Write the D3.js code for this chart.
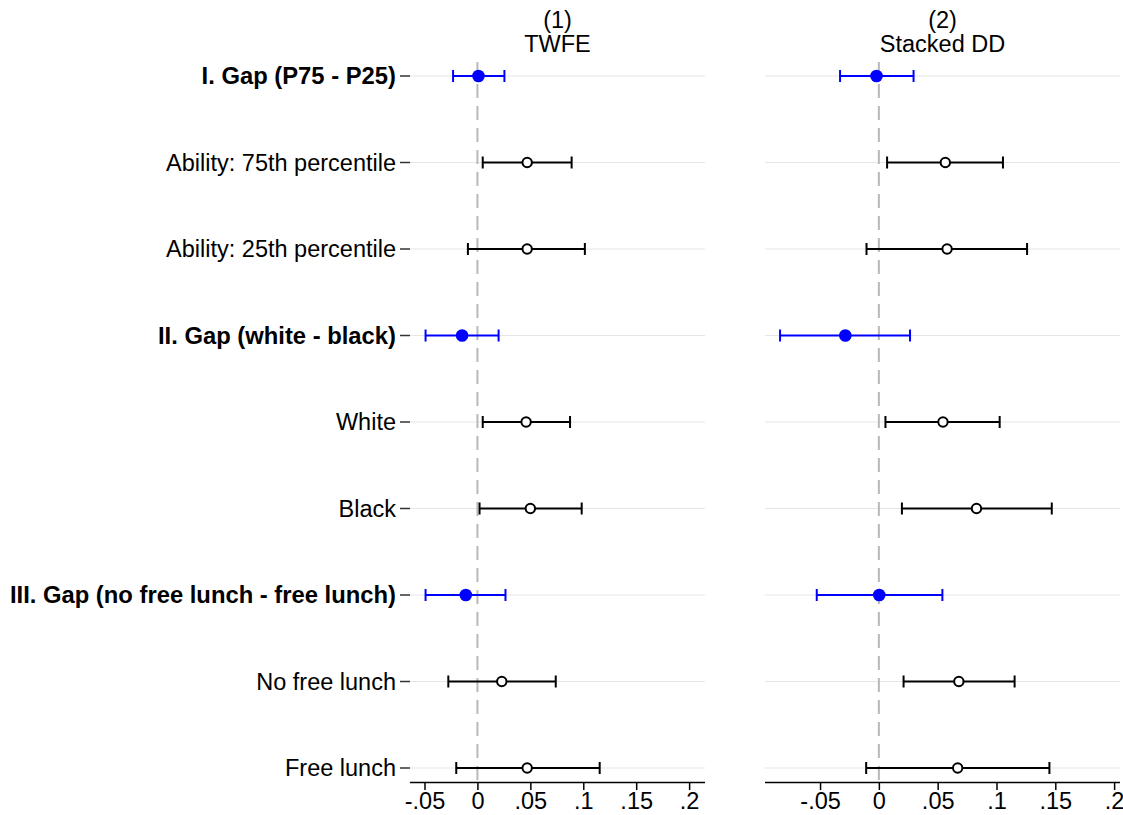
<!DOCTYPE html>
<html>
<head>
<meta charset="utf-8">
<script src="https://d3js.org/d3.v7.min.js"></script>
<style>
  body { margin: 0; background: #fff; }
  text { font-family: "Liberation Sans", Arial, sans-serif; }
</style>
</head>
<body>
<div id="chart"></div>
<script>
// rows, top to bottom
var rowLabels = ["I. Gap (P75 - P25)", "Ability: 75th percentile", "Ability: 25th percentile",
  "II. Gap (white - black)", "White", "Black",
  "III. Gap (no free lunch - free lunch)", "No free lunch", "Free lunch"];
var isGap = [true, false, false, true, false, false, true, false, false];

// column (1) TWFE
var twfeEst = [0.001, 0.047, 0.047, -0.0145, 0.046, 0.050, -0.011, 0.023, 0.047];
var twfeLo  = [-0.023, 0.005, -0.009, -0.049, 0.005, 0.002, -0.049, -0.0275, -0.020];
var twfeHi  = [0.0255, 0.089, 0.1015, 0.020, 0.0875, 0.0985, 0.0265, 0.074, 0.1155];

// column (2) Stacked DD
var stackEst = [-0.002, 0.0565, 0.058, -0.0285, 0.0545, 0.083, 0.0003, 0.068, 0.067];
var stackLo  = [-0.033, 0.007, -0.0105, -0.084, 0.0056, 0.0196, -0.0528, 0.021, -0.0108];
var stackHi  = [0.0295, 0.1055, 0.126, 0.0265, 0.1027, 0.147, 0.054, 0.1154, 0.145];

var tickVals = [-0.05, 0, 0.05, 0.1, 0.15, 0.2];
var tickLabels = ["-.05", "0", ".05", ".1", ".15", ".2"];

var W = 1123, H = 815;
var fs = 23.5;
var svg = d3.select("#chart").append("svg")
  .attr("width", W).attr("height", H);

var y = d3.scalePoint()
  .domain(d3.range(rowLabels.length))
  .range([76, 768]);

var axisY = 782;

var panels = [
  { title: ["(1)", "TWFE"], left: 410, right: 705, domain: [-0.0637, 0.215],
    est: twfeEst, lo: twfeLo, hi: twfeHi, yTicks: true },
  { title: ["(2)", "Stacked DD"], left: 765, right: 1120, domain: [-0.0968, 0.205],
    est: stackEst, lo: stackLo, hi: stackHi, yTicks: false }
];

panels.forEach(function(p) {
  var x = d3.scaleLinear().domain(p.domain).range([p.left, p.right]);
  var g = svg.append("g");

  // light gridlines per row
  g.selectAll(".grid")
    .data(rowLabels)
    .enter().append("line")
      .attr("x1", p.left).attr("x2", p.right)
      .attr("y1", function(d, i) { return y(i); })
      .attr("y2", function(d, i) { return y(i); })
      .attr("stroke", "#e6e6e6")
      .attr("stroke-width", 1.2);

  // zero reference line
  g.append("line")
    .attr("x1", x(0)).attr("x2", x(0))
    .attr("y1", 62).attr("y2", axisY)
    .attr("stroke", "#b8b8b8")
    .attr("stroke-width", 2)
    .attr("stroke-dasharray", "14,8");

  // x axis
  var xAxis = d3.axisBottom(x)
    .tickValues(tickVals)
    .tickFormat(function(d, i) { return tickLabels[i]; })
    .tickSize(8)
    .tickPadding(2);
  var ax = g.append("g")
    .attr("transform", "translate(0," + axisY + ")")
    .call(xAxis);
  ax.select(".domain").attr("d", "M" + p.left + ",0.5H" + p.right)
    .attr("stroke", "#000").attr("stroke-width", 1.5);
  ax.selectAll(".tick line").attr("stroke", "#000").attr("stroke-width", 1.5);
  ax.selectAll(".tick text")
    .attr("font-size", fs)
    .attr("fill", "#000")
    .style("font-family", "'Liberation Sans', Arial, sans-serif");

  // y tick marks and labels (left panel only)
  if (p.yTicks) {
    g.selectAll(".ytick")
      .data(rowLabels)
      .enter().append("line")
        .attr("x1", p.left - 10).attr("x2", p.left)
        .attr("y1", function(d, i) { return y(i); })
        .attr("y2", function(d, i) { return y(i); })
        .attr("stroke", "#333").attr("stroke-width", 1.5);
    g.selectAll(".ylab")
      .data(rowLabels)
      .enter().append("text")
        .attr("x", p.left - 14)
        .attr("y", function(d, i) { return y(i); })
        .attr("dy", "0.35em")
        .attr("text-anchor", "end")
        .attr("font-size", function(d, i) { return isGap[i] ? 23.8 : fs; })
        .attr("font-weight", function(d, i) { return isGap[i] ? "bold" : "normal"; })
        .text(function(d) { return d; });
  }

  // titles
  var cx = (p.left + p.right) / 2;
  g.append("text").attr("x", cx).attr("y", 28)
    .attr("text-anchor", "middle").attr("font-size", fs).text(p.title[0]);
  g.append("text").attr("x", cx).attr("y", 52)
    .attr("text-anchor", "middle").attr("font-size", fs).text(p.title[1]);

  var rows = d3.range(rowLabels.length).map(function(i) {
    return { i: i, est: p.est[i], lo: p.lo[i], hi: p.hi[i], gap: isGap[i] };
  });
  var col = function(d) { return d.gap ? "#0000ff" : "#000"; };

  // CI bars
  g.selectAll(".ci")
    .data(rows)
    .enter().append("line")
      .attr("x1", function(d) { return x(d.lo); })
      .attr("x2", function(d) { return x(d.hi); })
      .attr("y1", function(d) { return y(d.i); })
      .attr("y2", function(d) { return y(d.i); })
      .attr("stroke", col).attr("stroke-width", 2);
  ["lo", "hi"].forEach(function(k) {
    g.selectAll(".cap" + k)
      .data(rows)
      .enter().append("line")
        .attr("x1", function(d) { return x(d[k]); })
        .attr("x2", function(d) { return x(d[k]); })
        .attr("y1", function(d) { return y(d.i) - 6; })
        .attr("y2", function(d) { return y(d.i) + 6; })
        .attr("stroke", col).attr("stroke-width", 2);
  });

  // point estimates
  g.selectAll(".pt")
    .data(rows)
    .enter().append("circle")
      .attr("cx", function(d) { return x(d.est); })
      .attr("cy", function(d) { return y(d.i); })
      .attr("r", function(d) { return d.gap ? 6.3 : 4.7; })
      .attr("fill", function(d) { return d.gap ? "#0000ff" : "#fff"; })
      .attr("stroke", col)
      .attr("stroke-width", function(d) { return d.gap ? 0 : 2; });
});
</script>
</body>
</html>
